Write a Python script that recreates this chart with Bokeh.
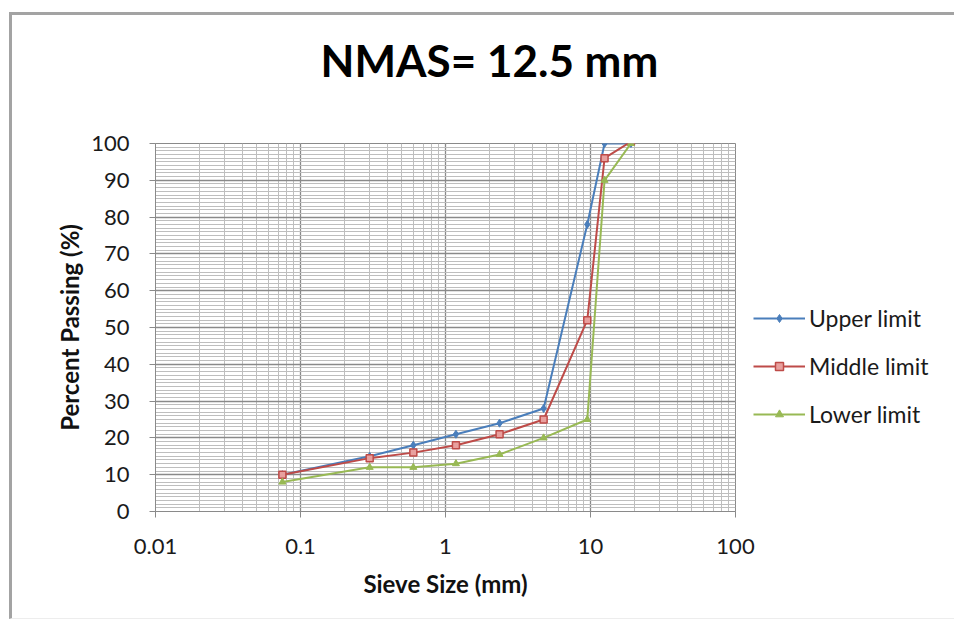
from bokeh.plotting import figure
from bokeh.models import (Legend, LegendItem, LogTicker, SingleIntervalTicker, Range1d, Title)
from bokeh.embed import file_html
from bokeh.resources import INLINE

sieve = [0.075, 0.3, 0.6, 1.18, 2.36, 4.75, 9.5, 12.5, 19]
upper = [10, 15, 18, 21, 24, 28, 78, 100, 100]
middle = [10, 14.5, 16, 18, 21, 25, 52, 96, 100.5]
lower = [8, 12, 12, 13, 15.5, 20, 25, 90, 100]

x_labels = {0.01: "0.01", 0.1: "0.1", 1: "1", 10: "10", 100: "100"}

FONT = "Lato"
BLUE = "#4a7ebb"
RED = "#be4b48"
GREEN = "#98b954"

# canvas is offset by the CSS frame (left 9+3, top 12+3)
OX, OY = 12, 15

p = figure(frame_width=580, frame_height=368, x_axis_type="log", output_backend="svg",
           toolbar_location=None, x_range=Range1d(0.01, 100), y_range=Range1d(0, 100),
           min_border_left=155 - OX, min_border_right=219, min_border_top=143 - OY,
           min_border_bottom=618 - 511, title=None)
p.margin = (12, 0, 0, 9)
p.styles = {"border-left": "3px solid #a3a3a3", "border-top": "3px solid #a3a3a3",
            "border-bottom": "1px solid #ededed"}
p.background_fill_color = "white"
p.border_fill_color = "white"
p.outline_line_color = "#8a8a8a"
p.outline_line_width = 1

# Title: a blank spacer nearest the frame, then the real title
spacer = Title(text=" ", text_font_size="10px", standoff=45)
p.add_layout(spacer, "above")
main_title = Title(text="NMAS= 12.5 mm", text_font=FONT, text_font_style="bold",
                   text_font_size="44px", align="left", offset=165, standoff=0,
                   text_color="#000000")
p.add_layout(main_title, "above")

# axes
p.xaxis.ticker = LogTicker(num_minor_ticks=10)
p.yaxis.ticker = SingleIntervalTicker(interval=10, num_minor_ticks=10)
p.xgrid.ticker = LogTicker(num_minor_ticks=10)
p.ygrid.ticker = SingleIntervalTicker(interval=10, num_minor_ticks=10)
p.xaxis.major_label_overrides = x_labels
for ax in (p.xaxis, p.yaxis):
    ax.axis_line_color = "#8a8a8a"
    ax.major_tick_line_color = "#8a8a8a"
    ax.major_tick_out = 6
    ax.major_tick_in = 0
    ax.minor_tick_line_color = None
    ax.major_label_text_font = FONT
    ax.major_label_text_font_size = "22px"
    ax.major_label_text_color = "#1a1a1a"
    ax.axis_label_text_font = FONT
    ax.axis_label_text_font_style = "bold"
    ax.axis_label_text_font_size = "24px"
    ax.axis_label_text_color = "#111111"
p.xaxis.axis_label = "Sieve Size (mm)"
p.yaxis.axis_label = "Percent Passing (%)"
p.xaxis.major_label_standoff = 21
p.xaxis.axis_label_standoff = 12
p.yaxis.major_label_standoff = 20
p.yaxis.axis_label_standoff = 4

for g in (p.xgrid, p.ygrid):
    g.grid_line_color = "#8a8a8a"
    g.grid_line_width = 1.3
    g.minor_grid_line_color = "#bebebe"
    g.minor_grid_line_width = 1

# series
r_u = p.line(sieve, upper, line_color=BLUE, line_width=2)
m_u = p.scatter(sieve, upper, marker="diamond", size=8, fill_color=BLUE, line_color=BLUE)
r_m = p.line(sieve, middle, line_color=RED, line_width=2)
m_m = p.scatter(sieve, middle, marker="square", size=7, fill_color="#e8a09e", line_color=RED, line_width=1.5)
r_l = p.line(sieve, lower, line_color=GREEN, line_width=2)
m_l = p.scatter(sieve, lower, marker="triangle", size=7, fill_color=GREEN, line_color=GREEN)

legend = Legend(items=[
    LegendItem(label="Upper limit", renderers=[r_u, m_u]),
    LegendItem(label="Middle limit", renderers=[r_m, m_m]),
    LegendItem(label="Lower limit", renderers=[r_l, m_l]),
], location="top_left")
legend.title = " "
legend.title_text_font_size = "20px"
legend.title_standoff = 120
legend.background_fill_alpha = 0
legend.border_line_color = None
legend.label_text_font = FONT
legend.label_text_font_size = "23px"
legend.label_text_color = "#1a1a1a"
legend.glyph_width = 52
legend.glyph_height = 20
legend.spacing = 20
legend.label_standoff = 4
legend.padding = 0
legend.margin = 18
p.add_layout(legend, "right")

open("out.html", "w").write(file_html(p, INLINE))
